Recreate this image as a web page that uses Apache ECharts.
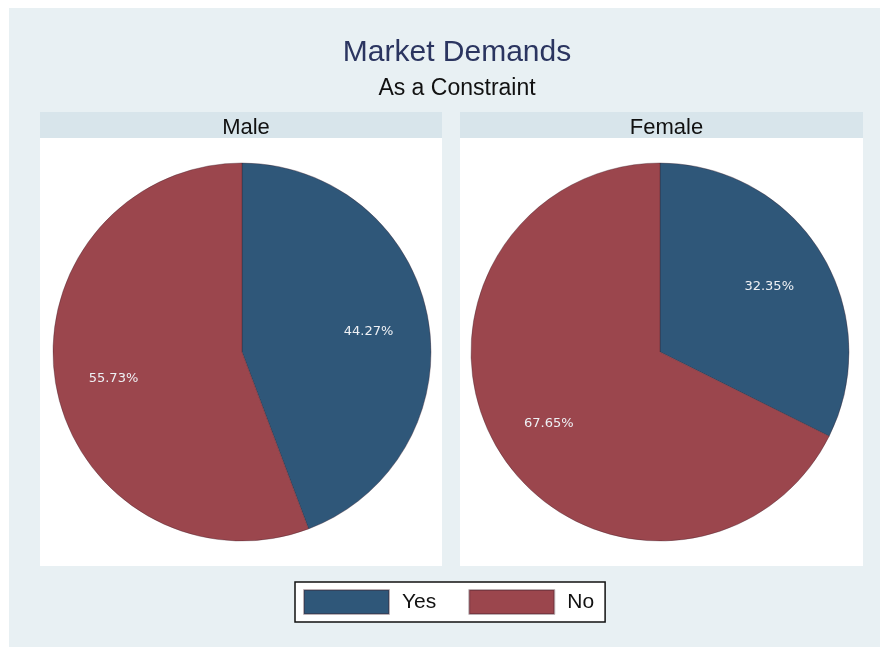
<!DOCTYPE html>
<html>
<head>
<meta charset="utf-8">
<script src="https://cdn.jsdelivr.net/npm/echarts@6/dist/echarts.min.js"></script>
<style>
  html, body { margin: 0; padding: 0; background: #fff; }
  #chart { width: 880px; height: 647px; }
</style>
</head>
<body>
<div id="chart"></div>
<script>
const categories = ['Yes', 'No'];
const groups = ['Male', 'Female'];
const maleValues = [44.27, 55.73];
const femaleValues = [32.35, 67.65];
const colors = ['#2f5779', '#9b464d'];

const chart = echarts.init(document.getElementById('chart'));
const font = 'Liberation Sans, Arial, sans-serif';
const R = 189;
const centers = [[242, 352], [660, 352]];
const panels = [[40, 442], [460, 863]];

function pieData(values) {
  return categories.map((name, i) => ({ name: name, value: values[i] }));
}

const series = [];
[maleValues, femaleValues].forEach((vals, k) => {
  // solid pie
  series.push({
    type: 'pie',
    center: centers[k],
    radius: [0, R],
    startAngle: 90,
    silent: true,
    animation: false,
    label: { show: false },
    labelLine: { show: false },
    itemStyle: { borderColor: 'rgba(60,30,40,0.35)', borderWidth: 1 },
    data: pieData(vals)
  });
  // label ring, puts the percentages at ~2/3 R
  series.push({
    type: 'pie',
    center: centers[k],
    radius: [R * 0.34, R],
    startAngle: 90,
    silent: true,
    animation: false,
    legendHoverLink: false,
    itemStyle: { color: 'rgba(0,0,0,0)', borderWidth: 0 },
    label: {
      show: true,
      position: 'inside',
      offset: [-1, 3],
      formatter: p => p.value.toFixed(2) + '%',
      color: '#eef0f4',
      fontFamily: 'DejaVu Sans, sans-serif',
      fontSize: 13
    },
    labelLine: { show: false },
    data: pieData(vals)
  });
});

const option = {
  color: colors,
  animation: false,
  graphic: [
    { type: 'rect', shape: { x: 9, y: 8, width: 871, height: 639 }, style: { fill: '#e8f0f3' }, z: -10 },
    ...panels.map(p => ({ type: 'rect', shape: { x: p[0], y: 112, width: p[1] - p[0], height: 26 }, style: { fill: '#d8e5eb' }, z: -9 })),
    ...panels.map(p => ({ type: 'rect', shape: { x: p[0], y: 138, width: p[1] - p[0], height: 428 }, style: { fill: '#ffffff' }, z: -9 }))
  ],
  title: [
    { text: 'Market Demands', left: 452, top: 33, textAlign: 'center',
      textStyle: { fontFamily: font, fontSize: 30, fontWeight: 'normal', color: '#2b3560' } },
    { text: 'As a Constraint', left: 452, top: 72, textAlign: 'center',
      textStyle: { fontFamily: font, fontSize: 23, fontWeight: 'normal', color: '#111' } },
    ...groups.map((g, k) => ({
      text: g, left: (panels[k][0] + panels[k][1]) / 2, top: 112, textAlign: 'center',
      textStyle: { fontFamily: font, fontSize: 22, fontWeight: 'normal', color: '#111' }
    }))
  ],
  legend: {
    data: categories,
    left: 295,
    top: 582,
    padding: [7, 11, 7, 8],
    itemWidth: 85,
    itemHeight: 24,
    itemGap: 32,
    icon: 'rect',
    backgroundColor: '#fff',
    borderColor: '#111',
    borderWidth: 1.5,
    selectedMode: false,
    textStyle: { fontFamily: font, fontSize: 21, color: '#111', padding: [0, 0, 0, 8] }
  },
  series: series
};

chart.setOption(option);
</script>
</body>
</html>
